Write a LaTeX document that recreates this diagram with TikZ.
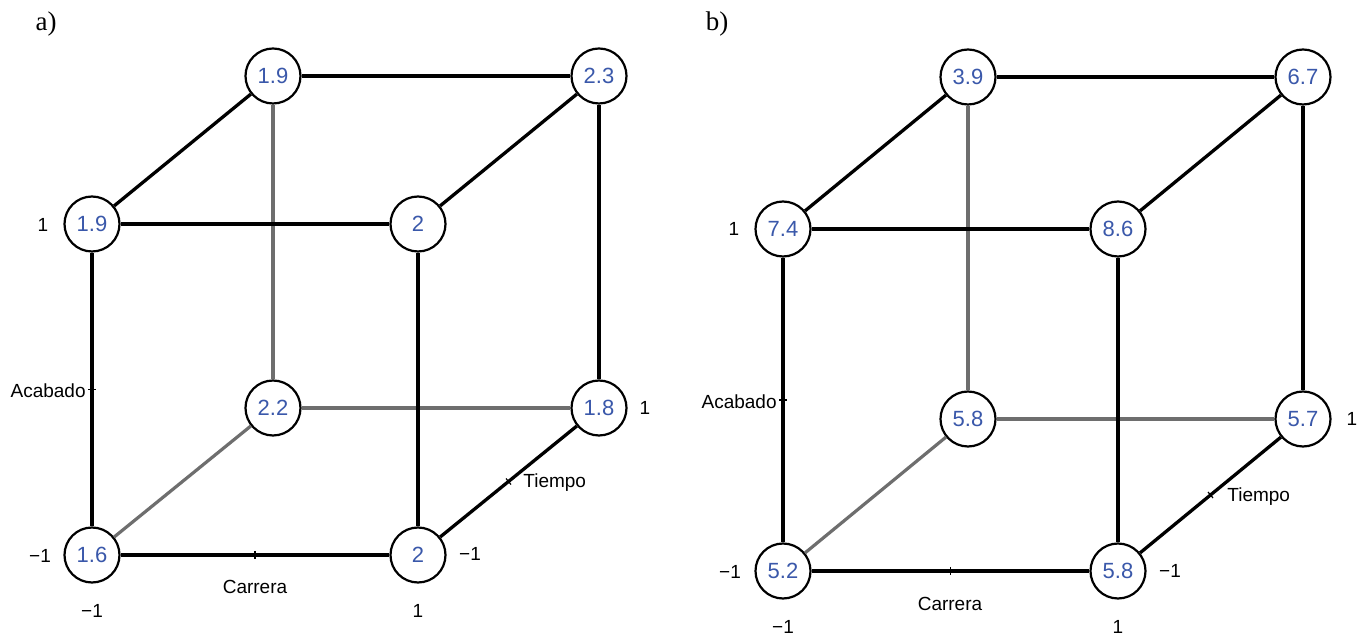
\documentclass[tikz,border=0pt]{standalone}
\usepackage{fontspec}
\setmainfont{Liberation Serif}
\setsansfont{Liberation Sans}
\usetikzlibrary{calc}
\definecolor{valblue}{RGB}{58,88,170}
\definecolor{backgray}{RGB}{110,110,110}
\tikzset{
  x=0.5pt, y=-0.5pt,
  val/.style={circle, draw=black, line width=1.1pt, fill=white, minimum size=27.5pt, inner sep=0pt,
              font=\sffamily\fontsize{11}{12}\selectfont, text=valblue},
  lab/.style={font=\sffamily\fontsize{9.5}{11}\selectfont, text=black, inner sep=1pt},
  panel/.style={font=\fontsize{13.5}{15}\selectfont, inner sep=0pt},
  front/.style={draw=black, line width=1.65pt},
  back/.style={draw=backgray, line width=1.6pt},
  tick/.style={draw=black, line width=0.6pt}
}
\begin{document}
\begin{tikzpicture}
\useasboundingbox (0,0) rectangle (1366,635);
% ---------------- panel a ----------------
\node[panel] (pa) at (46,24) {a)};
\node[val] (a1) at (92,555) {1.6};
\node[val] (a2) at (418,555) {2};
\node[val] (a3) at (92,224) {1.9};
\node[val] (a4) at (418,224) {2};
\node[val] (a5) at (273,408) {2.2};
\node[val] (a6) at (599,408) {1.8};
\node[val] (a7) at (273,76) {1.9};
\node[val] (a8) at (599,76) {2.3};
\draw[back] (a1) -- (a5);
\draw[back] (a5) -- (a6);
\draw[back] (a5) -- (a7);
\draw[front] (a1) -- (a2);
\draw[front] (a1) -- (a3);
\draw[front] (a2) -- (a4);
\draw[front] (a3) -- (a4);
\draw[front] (a2) -- (a6);
\draw[front] (a3) -- (a7);
\draw[front] (a4) -- (a8);
\draw[front] (a7) -- (a8);
\draw[front] (a6) -- (a8);
% ticks
\coordinate (ta1) at ($(a1)!0.5!(a3)$);
\draw[tick] ($(ta1)+(-4,0)$) -- ($(ta1)+(4,0)$);
\coordinate (ta2) at ($(a1)!0.5!(a2)$);
\draw[tick] ($(ta2)+(0,-4)$) -- ($(ta2)+(0,4)$);
\coordinate (ta3) at ($(a2)!0.5!(a6)$);
\draw[tick] ($(ta3)+(-2.5,-3)$) -- ($(ta3)+(2.5,3)$);
% labels
\node[lab, anchor=east] (acA) at (88,391) {Acabado};
\node[lab] (carA) at (255,587) {Carrera};
\node[lab, anchor=west] (tiA) at (521,483) {Tiempo};
\node[lab] (a1y) at (43,225) {1};
\node[lab] (a0y) at (40,556) {−1};
\node[lab] (a0x) at (92,611) {−1};
\node[lab] (a1x) at (418,611) {1};
\node[lab] (a0z) at (470,554) {−1};
\node[lab] (a1z) at (645,408) {1};
% ---------------- panel b ----------------
\node[panel] (pb) at (717,24) {b)};
\node[val] (b1) at (783,571) {5.2};
\node[val] (b2) at (1118,571) {5.8};
\node[val] (b3) at (783,229) {7.4};
\node[val] (b4) at (1118,229) {8.6};
\node[val] (b5) at (968,419) {5.8};
\node[val] (b6) at (1303,419) {5.7};
\node[val] (b7) at (968,77) {3.9};
\node[val] (b8) at (1303,77) {6.7};
\draw[back] (b1) -- (b5);
\draw[back] (b5) -- (b6);
\draw[back] (b5) -- (b7);
\draw[front] (b1) -- (b2);
\draw[front] (b1) -- (b3);
\draw[front] (b2) -- (b4);
\draw[front] (b3) -- (b4);
\draw[front] (b2) -- (b6);
\draw[front] (b3) -- (b7);
\draw[front] (b4) -- (b8);
\draw[front] (b7) -- (b8);
\draw[front] (b6) -- (b8);
\coordinate (tb1) at ($(b1)!0.5!(b3)$);
\draw[tick] ($(tb1)+(-4,0)$) -- ($(tb1)+(4,0)$);
\coordinate (tb2) at ($(b1)!0.5!(b2)$);
\draw[tick] ($(tb2)+(0,-4)$) -- ($(tb2)+(0,4)$);
\coordinate (tb3) at ($(b2)!0.5!(b6)$);
\draw[tick] ($(tb3)+(-2.5,-3)$) -- ($(tb3)+(2.5,3)$);
\node[lab, anchor=east] (acB) at (779,402) {Acabado};
\node[lab] (carB) at (950,604) {Carrera};
\node[lab, anchor=west] (tiB) at (1225,497) {Tiempo};
\node[lab] (b1y) at (734,229) {1};
\node[lab] (b0y) at (730,572) {−1};
\node[lab] (b0x) at (783,627) {−1};
\node[lab] (b1x) at (1118,627) {1};
\node[lab] (b0z) at (1170,571) {−1};
\node[lab] (b1z) at (1352,419) {1};
\end{tikzpicture}
\end{document}
